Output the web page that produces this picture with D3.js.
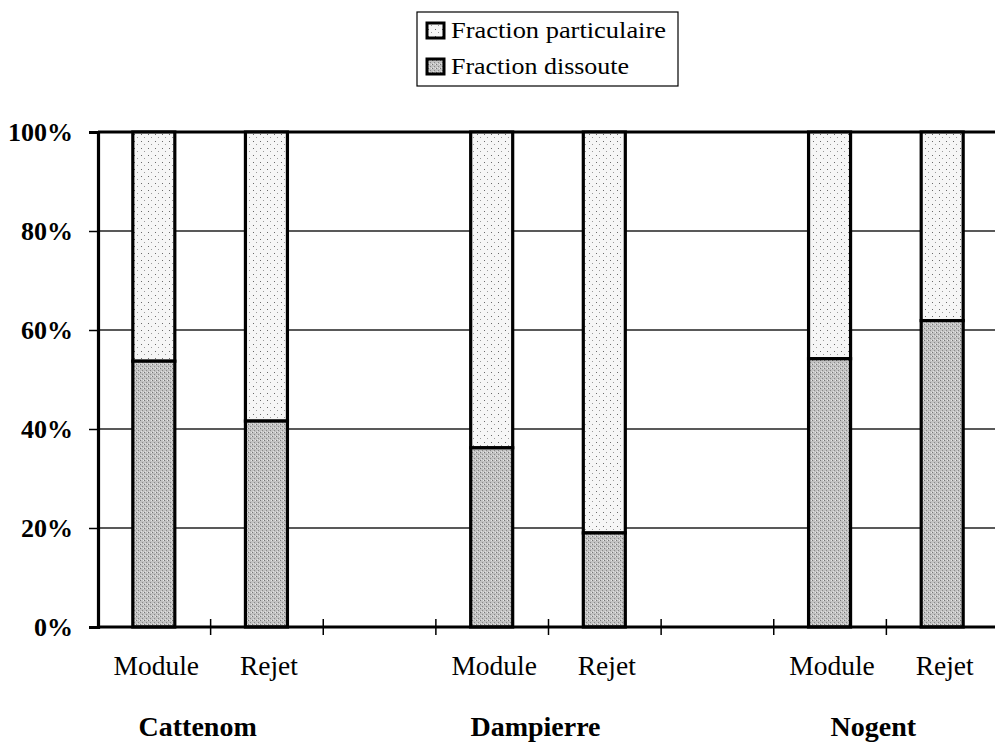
<!DOCTYPE html>
<html><head><meta charset="utf-8">
<script src="https://cdn.jsdelivr.net/npm/d3@7"></script>
<style>html,body{margin:0;padding:0;background:#fff;}svg{display:block;}
svg text{font-family:"Liberation Serif","Times New Roman",Times,serif;}</style>
</head><body>
<svg id="chart" width="995" height="742"></svg>
<script>
// Data
const slots = ["C-Module","C-Rejet","gap1","D-Module","D-Rejet","gap2","N-Module","N-Rejet"];
const slotLabels = ["Module","Rejet","","Module","Rejet","","Module","Rejet"];
const sites = ["Cattenom","Dampierre","Nogent"];
const siteSlots = [["C-Module","C-Rejet"],["D-Module","D-Rejet"],["N-Module","N-Rejet"]];
const barSlots = ["C-Module","C-Rejet","D-Module","D-Rejet","N-Module","N-Rejet"];
const dissoute = [53.7, 41.6, 36.2, 19.0, 54.2, 61.9];
const particulaire = [46.3, 58.4, 63.8, 81.0, 45.8, 38.1];
const yTicks = [0, 20, 40, 60, 80, 100];
const seriesNames = ["Fraction particulaire", "Fraction dissoute"];

const svg = d3.select("#chart");
const m = {left: 98, top: 132, right: 999, bottom: 627};

// Patterns
const defs = svg.append("defs");
const pPart = defs.append("pattern").attr("id","pPart").attr("patternUnits","userSpaceOnUse").attr("width",7).attr("height",7);
pPart.append("rect").attr("width",7).attr("height",7).attr("fill","#f6f6f6");
pPart.append("rect").attr("x",1).attr("y",1).attr("width",1).attr("height",1).attr("fill","#6a6a6a");
pPart.append("rect").attr("x",4).attr("y",4).attr("width",1).attr("height",1).attr("fill","#9a9a9a");
const pDis = defs.append("pattern").attr("id","pDis").attr("patternUnits","userSpaceOnUse").attr("width",4).attr("height",4);
pDis.append("rect").attr("width",4).attr("height",4).attr("fill","#c2c2c2");
pDis.append("rect").attr("x",0).attr("y",0).attr("width",1).attr("height",1).attr("fill","#777");
pDis.append("rect").attr("x",2).attr("y",2).attr("width",1).attr("height",1).attr("fill","#888");
pDis.append("rect").attr("x",3).attr("y",0).attr("width",1).attr("height",1).attr("fill","#e8e8e8");
pDis.append("rect").attr("x",1).attr("y",3).attr("width",1).attr("height",1).attr("fill","#e0e0e0");

const x = d3.scaleBand().domain(slots).range([m.left, m.right]).padding(0);
const y = d3.scaleLinear().domain([0,100]).range([m.bottom, m.top]);
const bw = x.bandwidth()*0.373;

// gridlines
svg.append("g").selectAll("line").data(yTicks.filter(d=>d>0 && d<100)).join("line")
  .attr("x1", m.left).attr("x2", m.right).attr("y1", d=>y(d)).attr("y2", d=>y(d))
  .attr("stroke","#222").attr("stroke-width",1.6);
// top border
svg.append("line").attr("x1",m.left).attr("x2",m.right).attr("y1",y(100)).attr("y2",y(100))
  .attr("stroke","#000").attr("stroke-width",3);

// bars
const bars = svg.append("g");
barSlots.forEach((s,i)=>{
  const cx = x(s) + x.bandwidth()/2 - 0.5;
  bars.append("rect").attr("x", cx-bw/2).attr("width", bw)
    .attr("y", y(dissoute[i] + particulaire[i])).attr("height", y(dissoute[i]) - y(dissoute[i] + particulaire[i]))
    .attr("fill","url(#pPart)").attr("stroke","#000").attr("stroke-width",3.2);
  bars.append("rect").attr("x", cx-bw/2).attr("width", bw)
    .attr("y", y(dissoute[i])).attr("height", y(0) - y(dissoute[i]))
    .attr("fill","url(#pDis)").attr("stroke","#000").attr("stroke-width",3.2);
});

// y axis
const yAxis = d3.axisLeft(y).tickValues(yTicks).tickFormat(d=>d+"%").tickSize(9).tickPadding(16);
const gy = svg.append("g").attr("transform",`translate(${m.left},0)`).call(yAxis);
gy.attr("font-family",null);
gy.select(".domain").attr("stroke","#000").attr("stroke-width",3.2);
gy.selectAll(".tick line").attr("stroke","#000").attr("stroke-width",1.5);
gy.selectAll("text").attr("font-size",26).attr("font-weight","bold").attr("fill","#000");

// x axis
const xTickPos = slots.map(s=>x(s));
const gx = svg.append("g");
gx.append("line").attr("x1",m.left).attr("x2",m.right).attr("y1",m.bottom).attr("y2",m.bottom)
  .attr("stroke","#000").attr("stroke-width",3.2);
gx.selectAll("line.tk").data(xTickPos.slice(1)).join("line").attr("class","tk")
  .attr("x1",d=>d).attr("x2",d=>d).attr("y1",m.bottom-8).attr("y2",m.bottom+8)
  .attr("stroke","#000").attr("stroke-width",1.5);
gx.selectAll("text.cl").data(slots).join("text").attr("class","cl")
  .attr("x", s=>x(s)+x.bandwidth()/2+2).attr("y", 675)
  .attr("text-anchor","middle").attr("font-size",27.5)
  .text((s,i)=>slotLabels[i]);

// site labels
svg.append("g").selectAll("text").data(sites).join("text")
  .attr("x",(d,i)=>(x(siteSlots[i][0]) + x(siteSlots[i][1]) + x.bandwidth())/2 - 13)
  .attr("y",736).attr("text-anchor","middle")
  .attr("font-size",28).attr("font-weight","bold").text(d=>d);

// legend
const lg = svg.append("g");
lg.append("rect").attr("x",417).attr("y",12).attr("width",261).attr("height",74)
  .attr("fill","#fff").attr("stroke","#000").attr("stroke-width",1.2);
const lgFills = ["url(#pPart)","url(#pDis)"];
const lgLens = [215, 178];
seriesNames.forEach((n,i)=>{
  const yy = 23 + i*36;
  lg.append("rect").attr("x",427).attr("y",yy).attr("width",17).attr("height",15)
    .attr("fill",lgFills[i]).attr("stroke","#000").attr("stroke-width",3);
  lg.append("text").attr("x",451).attr("y",yy+15)
    .attr("font-size",24).attr("textLength",lgLens[i]).attr("lengthAdjust","spacingAndGlyphs")
    .text(n);
});
</script>
</body></html>
